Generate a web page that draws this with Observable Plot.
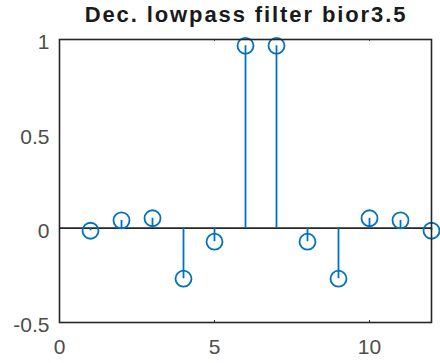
<!DOCTYPE html>
<html>
<head>
<meta charset="utf-8">
<script src="https://cdn.jsdelivr.net/npm/d3@7"></script>
<script src="https://cdn.jsdelivr.net/npm/@observablehq/plot@0.6"></script>
<style>
  body { margin: 0; background: #fff; font-family: "Liberation Sans", Arial, sans-serif; }
  #title { position: relative; width: 440px; height: 30px; }
  #title span { position: absolute; left: 246px; top: 2px; transform: translateX(-50%);
    font-weight: bold; font-size: 22px; line-height: 26px; color: #1a1a1a; white-space: nowrap; letter-spacing: 1.9px; }
</style>
</head>
<body>
<div id="title"><span>Dec. lowpass filter bior3.5</span></div>
<div id="chart"></div>
<script>
// bior3.5 decomposition lowpass filter coefficients
const taps = [1, 2, 3, 4, 5, 6, 7, 8, 9, 10, 11, 12];
const coeffs = [-0.0138, 0.0414, 0.0525, -0.2679, -0.0718, 0.9667,
                0.9667, -0.0718, -0.2679, 0.0525, 0.0414, -0.0138];
const xTicks = [0, 5, 10];
const yTicks = [-0.5, 0, 0.5, 1];

const data = taps.map((n, i) => ({n, h: coeffs[i]}));
const stemColor = "#0072BD";
const axisColor = "#262626";

const chart = Plot.plot({
  width: 440,
  height: 333,
  marginLeft: 59,
  marginRight: 9,
  marginTop: 9,
  marginBottom: 41,
  style: {fontFamily: "'Liberation Sans', Arial, sans-serif", fontSize: "21px", color: "#4d4d4d"},
  x: {type: "linear", domain: [0, 12]},
  y: {type: "linear", domain: [-0.5, 1]},
  marks: [
    // baseline at zero
    Plot.ruleY([0], {stroke: axisColor, strokeWidth: 1.8}),
    // stems
    Plot.ruleX(data, {x: "n", y1: 0, y2: "h", stroke: stemColor, strokeWidth: 1.8}),
    Plot.dot(data, {x: "n", y: "h", r: 8, stroke: stemColor, strokeWidth: 1.8, fill: "none"}),
    // axes box
    Plot.frame({stroke: axisColor, strokeWidth: 1.6}),
    // small inward ticks on the bottom and top edges
    Plot.ruleX(xTicks.slice(1), {x: d => d, y1: -0.5, y2: -0.49, stroke: axisColor}),
    Plot.ruleX(xTicks.slice(1), {x: d => d, y1: 1, y2: 0.99, stroke: axisColor}),
    Plot.axisX({ticks: xTicks, tickSize: 0, tickPadding: 17, fontSize: 21, label: null}),
    Plot.axisY({ticks: yTicks, tickSize: 0, tickPadding: 10, fontSize: 21, label: null,
      dy: 3, tickFormat: d => String(d)})
  ]
});
document.getElementById("chart").appendChild(chart);
</script>
</body>
</html>
